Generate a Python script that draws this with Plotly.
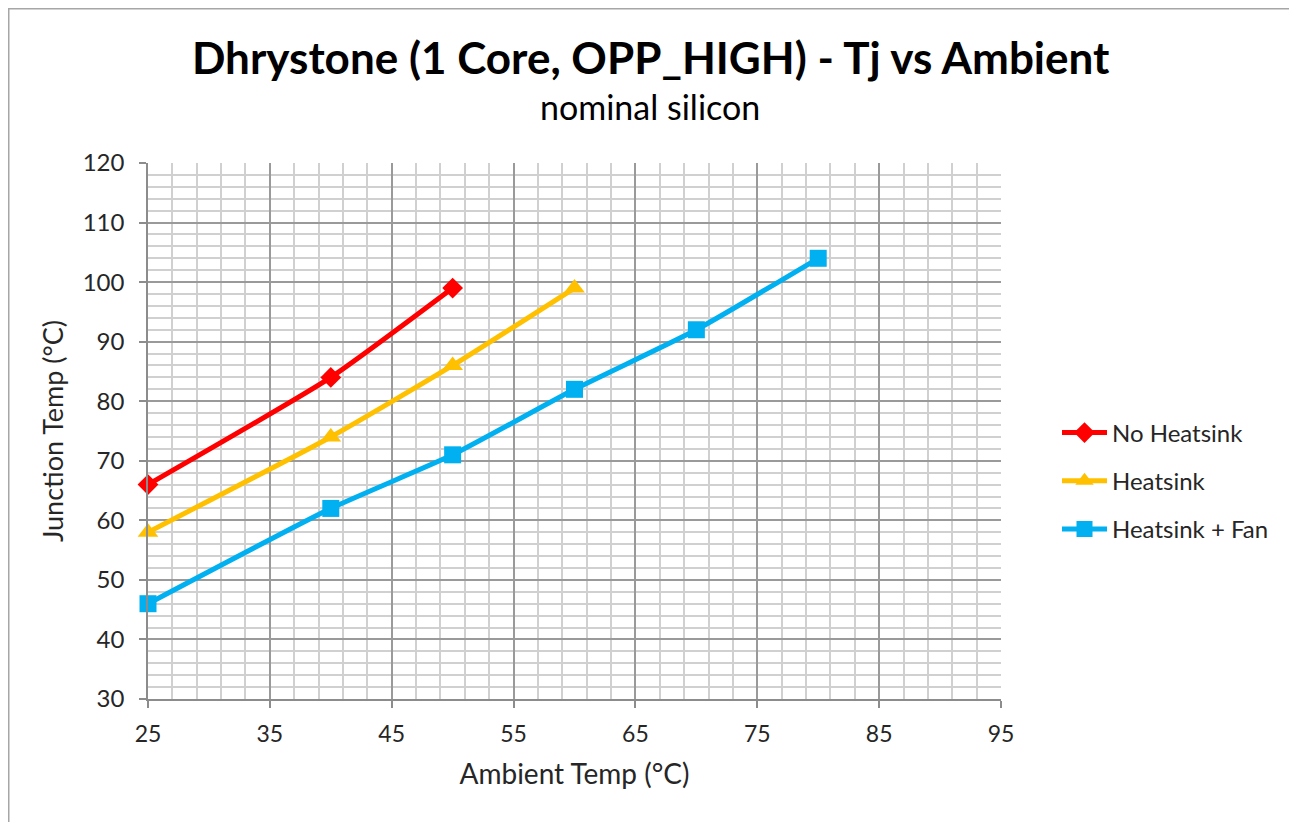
import plotly.graph_objects as go

# Data
no_hs_x = [25, 40, 50]
no_hs_y = [66, 84, 99]
hs_x = [25, 40, 50, 60]
hs_y = [58, 74, 86, 99]
fan_x = [25, 40, 50, 60, 70, 80]
fan_y = [46, 62, 71, 82, 92, 104]

series_names = ["No Heatsink", "Heatsink", "Heatsink + Fan"]
title_text = "Dhrystone (1 Core, OPP_HIGH) - Tj vs Ambient"
subtitle_text = "nominal silicon"
x_title = "Ambient Temp (°C)"
y_title = "Junction Temp (°C)"

OFF = 8  # page body offset
W, H = 1297 - OFF, 822 - OFF
# plot area in page pixels: left 148, right 1001, top 163, bottom 699
L, T = 148 - OFF, 163 - OFF
R = W - (1001 - OFF)
B = H - (699 - OFF)
pw, ph = W - L - R, H - T - B

FONT = "Lato, Calibri, Carlito, sans-serif"
TXT = "#262626"

fig = go.Figure()
fig.add_trace(go.Scatter(x=no_hs_x, y=no_hs_y, name=series_names[0], legendgroup="a", cliponaxis=False,
                         mode="lines+markers", line=dict(color="#ff0000", width=5, shape="spline", smoothing=0.5),
                         marker=dict(symbol="diamond", size=16, color="#ff0000")))
fig.add_trace(go.Scatter(x=hs_x, y=hs_y, name=series_names[1], legendgroup="b", cliponaxis=False,
                         mode="lines+markers", line=dict(color="#ffc000", width=5, shape="spline", smoothing=0.5),
                         marker=dict(symbol="triangle-up", size=18, color="#ffc000")))
fig.add_trace(go.Scatter(x=fan_x, y=fan_y, name=series_names[2], legendgroup="c", cliponaxis=False,
                         mode="lines+markers", line=dict(color="#00b0f0", width=5, shape="spline", smoothing=0.5),
                         marker=dict(symbol="square", size=17, color="#00b0f0")))

def px_x(p):
    # p in page pixels
    return (p - OFF - L) / pw

def px_y(p):
    return (H - B - (p - OFF)) / ph

fig.update_layout(
    width=W, height=H,
    margin=dict(l=L, r=R, t=T, b=B, pad=0),
    paper_bgcolor="white", plot_bgcolor="white",
    font=dict(family=FONT, color=TXT, size=23),
    showlegend=True,
    legend=dict(x=px_x(1057), xanchor="left", y=px_y(481), yanchor="middle",
                font=dict(size=24, color=TXT), tracegroupgap=14, traceorder="grouped",
                bgcolor="rgba(0,0,0,0)", itemwidth=45),
    annotations=[
        dict(text="<b>" + title_text + "</b>", xref="paper", yref="paper",
             x=px_x(650.5), y=px_y(57), xanchor="center", yanchor="middle",
             showarrow=False, font=dict(size=44, color="#000000", family=FONT)),
        dict(text=subtitle_text, xref="paper", yref="paper",
             x=px_x(650), y=px_y(106), xanchor="center", yanchor="middle",
             showarrow=False, font=dict(size=34, color="#000000", family=FONT)),
    ],
    shapes=[
        dict(type="line", xref="paper", yref="paper", x0=px_x(OFF), x1=px_x(1300), y0=px_y(OFF + 0.5), y1=px_y(OFF + 0.5),
             line=dict(color="#a6a6a6", width=2)),
        dict(type="line", xref="paper", yref="paper", x0=px_x(OFF + 0.5), x1=px_x(OFF + 0.5), y0=px_y(OFF), y1=px_y(830),
             line=dict(color="#a6a6a6", width=2)),
    ],
)

fig.update_xaxes(range=[25, 95], tick0=25, dtick=10, showgrid=True, gridcolor="#9a9a9a", gridwidth=1.5,
                 showline=True, linecolor="#8c8c8c", linewidth=1.5, mirror=False,
                 ticks="outside", ticklen=7, tickcolor="#8c8c8c", tickwidth=1.5,
                 ticklabelstandoff=7, zeroline=False,
                 minor=dict(tick0=25, dtick=2, showgrid=True, gridcolor="#d0d0d0", gridwidth=1.5),
                 title=dict(text=x_title, font=dict(size=28, color=TXT), standoff=18),
                 tickfont=dict(size=23, color=TXT))
fig.update_yaxes(range=[30, 120], tick0=30, dtick=10, showgrid=True, gridcolor="#9a9a9a", gridwidth=1.5,
                 showline=True, linecolor="#8c8c8c", linewidth=1.5,
                 ticks="outside", ticklen=7, tickcolor="#8c8c8c", tickwidth=1.5, zeroline=False,
                 ticklabelstandoff=10,
                 minor=dict(tick0=30, dtick=2, showgrid=True, gridcolor="#d0d0d0", gridwidth=1.5),
                 title=dict(text=y_title, font=dict(size=27, color=TXT), standoff=11),
                 tickfont=dict(size=24, color=TXT))

fig.write_html("out.html")
